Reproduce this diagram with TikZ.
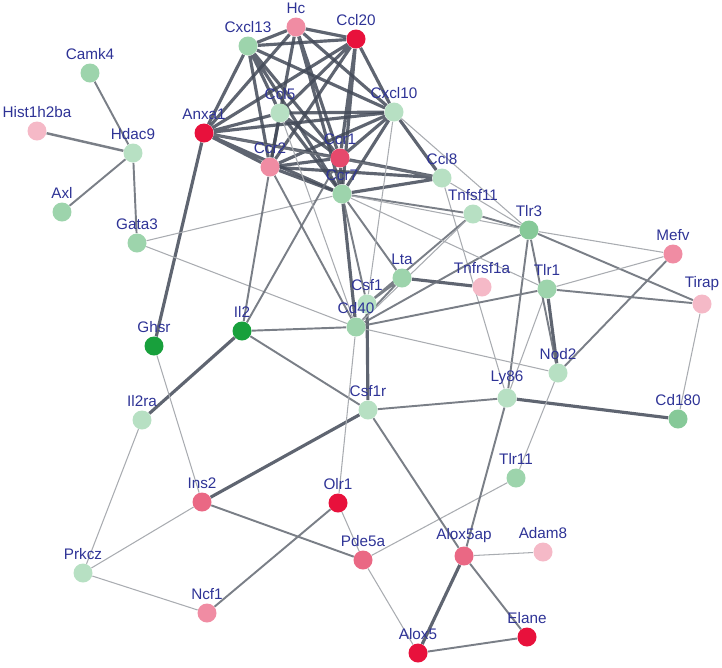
\documentclass[tikz,border=0pt]{standalone}
\usepackage{fontspec}
\newfontfamily\lblfont{Liberation Sans}
\usetikzlibrary{backgrounds}

\definecolor{gl}{HTML}{B7E0C3}
\definecolor{gm}{HTML}{9DD4AC}
\definecolor{gd}{HTML}{86C998}
\definecolor{gdark}{HTML}{18A03C}
\definecolor{rd}{HTML}{E8113C}
\definecolor{rm}{HTML}{E6496C}
\definecolor{rp}{HTML}{EA6884}
\definecolor{pk}{HTML}{F08CA3}
\definecolor{pl}{HTML}{F5B9C7}
\definecolor{lblblue}{HTML}{2E3396}
\definecolor{edark}{HTML}{434A58}
\definecolor{emidc}{HTML}{6C717A}
\definecolor{elight}{HTML}{A9ACB1}

\begin{document}
\begin{tikzpicture}[x=0.02cm, y=-0.02cm,
  nd/.style={circle, minimum size=0.38cm, inner sep=0pt},
  lbl/.style={font=\lblfont\fontsize{8.7}{9}\selectfont, text=lblblue, inner sep=1pt},
  every label/.style={lbl},
  label distance=1pt,
  ethick/.style={draw=edark, line width=1.8pt, draw opacity=0.85},
  emid/.style={draw=emidc, line width=1.1pt, draw opacity=0.9},
  ethin/.style={draw=elight, line width=0.6pt}]
  \useasboundingbox (0,0) rectangle (722,667);

  \node[nd, fill=pk, label=above:Hc] (hc) at (296,27) {};
  \node[nd, fill=rd, label=above:Ccl20] (ccl20) at (356,39) {};
  \node[nd, fill=gm, label=above:Cxcl13] (cxcl13) at (248,46) {};
  \node[nd, fill=gm, label=above:Camk4] (camk4) at (90,73) {};
  \node[nd, fill=pl, label=above:Hist1h2ba] (hist) at (37,131) {};
  \node[nd, fill=gl, label=above:Hdac9] (hdac9) at (133,153) {};
  \node[nd, fill=gm, label=above:Axl] (axl) at (62,212) {};
  \node[nd, fill=gm, label=above:Gata3] (gata3) at (137,243) {};
  \node[nd, fill=rd, label=above:Anxa1] (anxa1) at (204,133) {};
  \node[nd, fill=gl, label=above:Ccl5] (ccl5) at (280,113) {};
  \node[nd, fill=gl, label=above:Cxcl10] (cxcl10) at (394,112) {};
  \node[nd, fill=pk, label=above:Ccr2] (ccr2) at (270,167) {};
  \node[nd, fill=rm, label=above:Ccr1] (ccr1) at (340,158) {};
  \node[nd, fill=gm, label=above:Ccr7] (ccr7) at (342,194) {};
  \node[nd, fill=gl, label=above:Ccl8] (ccl8) at (442,178) {};
  \node[nd, fill=gl, label=above:Tnfsf11] (tnfsf11) at (473,214) {};
  \node[nd, fill=gd, label=above:Tlr3] (tlr3) at (529,230) {};
  \node[nd, fill=pk, label=above:Mefv] (mefv) at (673,254) {};
  \node[nd, fill=pl, label=above:Tirap] (tirap) at (702,304) {};
  \node[nd, fill=gm, label=above:Lta] (lta) at (402,278) {};
  \node[nd, fill=pl, label=above:Tnfrsf1a] (tnfrsf1a) at (482,287) {};
  \node[nd, fill=gm, label=above:Tlr1] (tlr1) at (547,289) {};
  \node[nd, fill=gl, label=above:Csf1] (csf1) at (367,304) {};
  \node[nd, fill=gm, label=above:Cd40] (cd40) at (356,327) {};
  \node[nd, fill=gdark, label=above:Ghsr] (ghsr) at (154,346) {};
  \node[nd, fill=gdark, label=above:Il2] (il2) at (242,331) {};
  \node[nd, fill=gl, label=above:Nod2] (nod2) at (558,373) {};
  \node[nd, fill=gl, label=above:Ly86] (ly86) at (507,398) {};
  \node[nd, fill=gd, label=above:Cd180] (cd180) at (678,419) {};
  \node[nd, fill=gl, label=above:Il2ra] (il2ra) at (142,420) {};
  \node[nd, fill=gl, label=above:Csf1r] (csf1r) at (368,410) {};
  \node[nd, fill=gm, label=above:Tlr11] (tlr11) at (516,478) {};
  \node[nd, fill=rp, label=above:Ins2] (ins2) at (202,502) {};
  \node[nd, fill=rd, label=above:Olr1] (olr1) at (338,503) {};
  \node[nd, fill=rp, label=above:Pde5a] (pde5a) at (363,560) {};
  \node[nd, fill=rp, label=above:Alox5ap] (alox5ap) at (464,556) {};
  \node[nd, fill=pl, label=above:Adam8] (adam8) at (543,552) {};
  \node[nd, fill=gl, label=above:Prkcz] (prkcz) at (83,573) {};
  \node[nd, fill=pk, label=above:Ncf1] (ncf1) at (207,613) {};
  \node[nd, fill=rd, label=above:Alox5] (alox5) at (418,653) {};
  \node[nd, fill=rd, label=above:Elane] (elane) at (527,637) {};

  \begin{pgfonlayer}{background}
  % chemokine core
  \draw[ethick] (hc) -- (ccl20) (hc) -- (cxcl13) (hc) -- (anxa1) (hc) -- (ccl5)
    (hc) -- (cxcl10) (hc) -- (ccr2) (hc) -- (ccr1) (hc) -- (ccr7);
  \draw[ethick] (ccl20) -- (cxcl13) (ccl20) -- (anxa1) (ccl20) -- (ccl5)
    (ccl20) -- (cxcl10) (ccl20) -- (ccr2) (ccl20) -- (ccr1) (ccl20) -- (ccr7);
  \draw[ethick] (cxcl13) -- (anxa1) (cxcl13) -- (ccl5) (cxcl13) -- (cxcl10)
    (cxcl13) -- (ccr2) (cxcl13) -- (ccr1) (cxcl13) -- (ccr7);
  \draw[ethick] (anxa1) -- (ccl5) (anxa1) -- (cxcl10) (anxa1) -- (ccr2)
    (anxa1) -- (ccr1) (anxa1) -- (ccr7);
  \draw[ethick] (ccl5) -- (cxcl10) (ccl5) -- (ccr2) (ccl5) -- (ccr1) (ccl5) -- (ccr7);
  \draw[ethick] (cxcl10) -- (ccr2) (cxcl10) -- (ccr1) (cxcl10) -- (ccr7);
  \draw[ethick] (ccr2) -- (ccr1) (ccr2) -- (ccr7) (ccr1) -- (ccr7);
  \draw[ethick] (ccl8) -- (cxcl10) (ccl8) -- (ccr2) (ccl8) -- (ccr1) (ccl8) -- (ccr7);
  \draw[emid] (ccl8) -- (anxa1);
  \draw[ethick] (anxa1) -- (ghsr) (ccr7) -- (cd40) (csf1) -- (csf1r);
  \draw[ethick] (il2) -- (il2ra) (ins2) -- (csf1r) (lta) -- (tnfrsf1a);
  \draw[ethick] (ly86) -- (cd180) (tlr1) -- (nod2) (alox5ap) -- (alox5);

  % left side
  \draw[emid] (camk4) -- (hdac9) (axl) -- (hdac9) (hdac9) -- (gata3);
  \draw[emid, line width=1.4pt] (hist) -- (hdac9);
  \draw[ethin] (gata3) -- (ccr7) (gata3) -- (cd40) (ghsr) -- (ins2);
  \draw[emid] (il2) -- (cd40) (il2) -- (csf1r) (il2) -- (ccr2) (il2) -- (ccr1);
  \draw[ethin] (il2ra) -- (prkcz) (prkcz) -- (ins2) (prkcz) -- (ncf1);
  \draw[emid] (ncf1) -- (olr1) (ins2) -- (pde5a);
  \draw[ethin] (olr1) -- (pde5a) (olr1) -- (cd40) (pde5a) -- (tlr11) (pde5a) -- (alox5);

  % lower right
  \draw[emid] (csf1r) -- (alox5ap) (csf1r) -- (ly86) (alox5ap) -- (ly86)
    (alox5ap) -- (elane) (alox5) -- (elane);
  \draw[ethin] (alox5ap) -- (adam8) (tlr11) -- (nod2) (cd180) -- (tirap)
    (ly86) -- (tlr1) (ly86) -- (ccl8);

  % receptors
  \draw[emid] (ly86) -- (tlr3) (tlr3) -- (nod2) (tlr3) -- (tirap) (tlr1) -- (tirap)
    (nod2) -- (mefv) (tlr3) -- (cd40) (tlr1) -- (cd40);
  \draw[ethin] (tlr3) -- (mefv) (tlr1) -- (mefv) (cd40) -- (nod2);
  \draw[emid] (lta) -- (cd40) (lta) -- (csf1) (lta) -- (ccr7) (csf1) -- (tnfsf11)
    (tnfsf11) -- (tlr3) (tnfsf11) -- (ccr7) (ccr7) -- (csf1) (ccr2) -- (cd40);
  \draw[ethin] (ccr7) -- (tlr3) (ccr7) -- (tlr1) (ccl8) -- (tlr3) (cxcl10) -- (tlr3)
    (cxcl10) -- (csf1) (ccl5) -- (cd40) (cd40) -- (tnfsf11);
  \end{pgfonlayer}
\end{tikzpicture}
\end{document}
